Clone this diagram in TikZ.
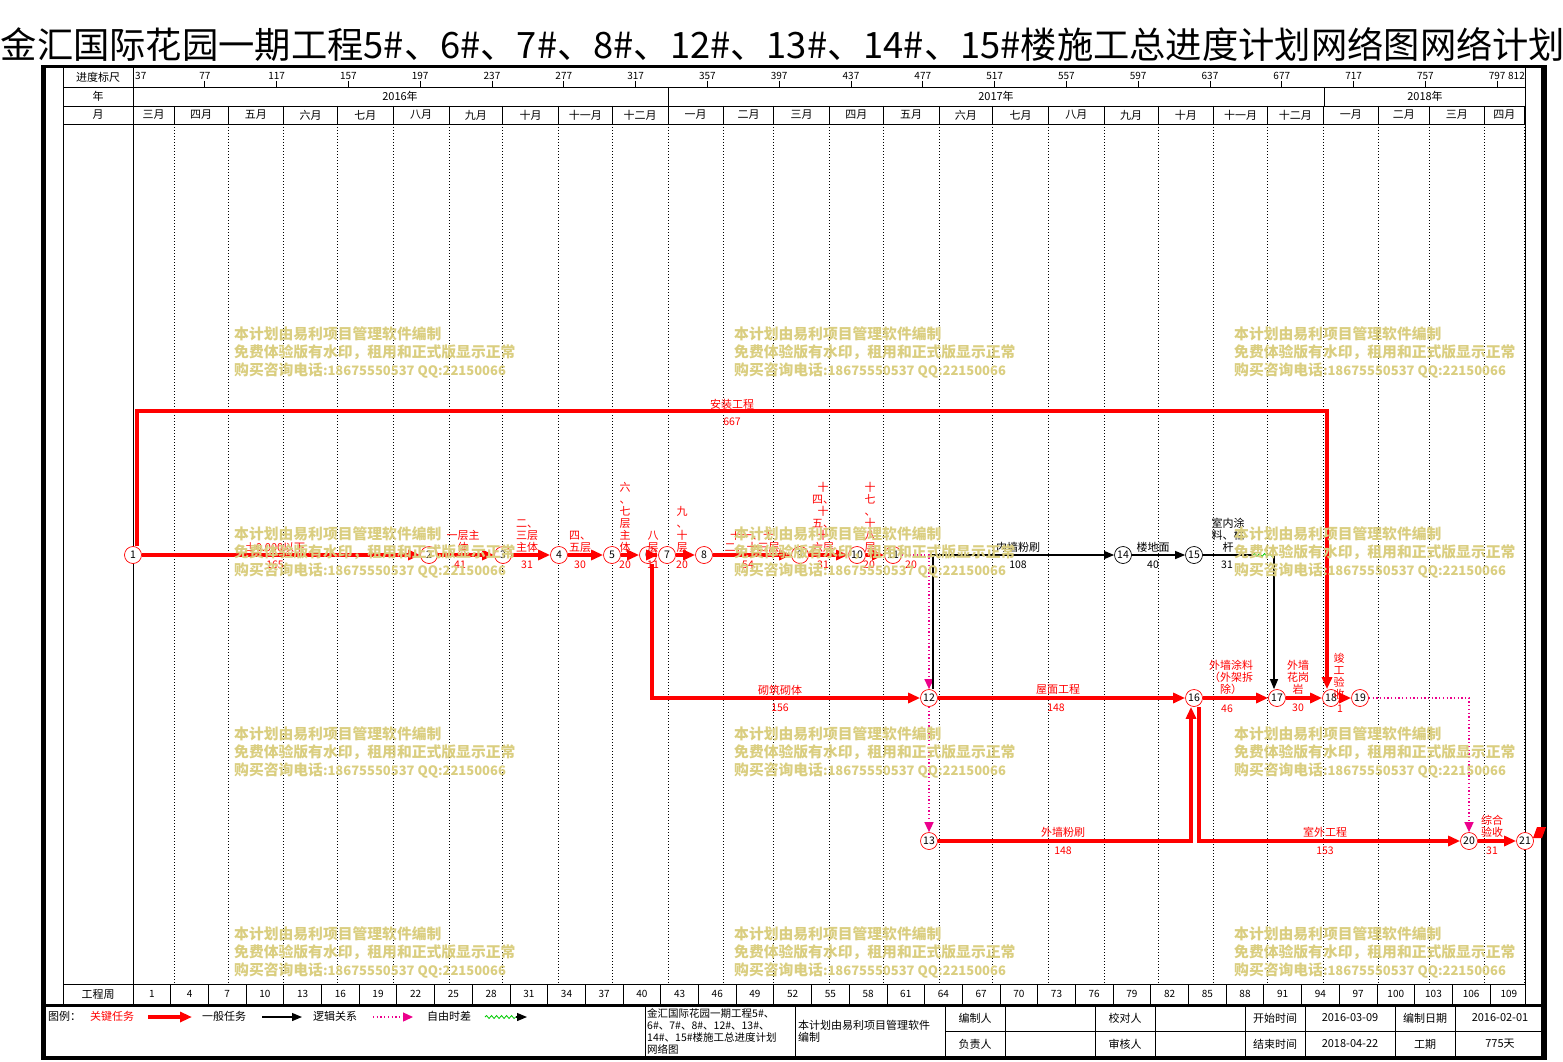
\documentclass[tikz,border=0pt]{standalone}
\usepackage{fontspec}
\setmainfont{Noto Sans CJK SC}
\usetikzlibrary{arrows.meta,decorations.pathmorphing}

\definecolor{wmark}{RGB}{218,206,128}
\definecolor{fgreen}{RGB}{0,200,0}

\begin{document}
\begin{tikzpicture}[x=1pt,y=-1pt,
  crit/.style={red,line width=3.5pt,-{Triangle[length=12pt,width=10pt]}},
  norm/.style={black,line width=1.2pt,-{Triangle[length=10pt,width=8pt]}},
  normline/.style={black,line width=1.2pt},
  logic/.style={magenta,line width=1.3pt,dash pattern=on 1.3pt off 2.4pt,-{Triangle[length=10pt,width=9pt]}},
  flt/.style={fgreen,line width=0.8pt,decorate,decoration={snake,amplitude=1.5pt,segment length=5pt}},
  mline/.style={black,line width=0.8pt,dash pattern=on 1pt off 2pt},
  nd/.style={circle,draw=red,line width=0.7pt,fill=white,minimum size=17pt,inner sep=0pt,font=\fontsize{10.5}{10}\selectfont},
  ndk/.style={nd,draw=black},
  lab/.style={red,inner sep=0pt,align=center,font=\fontsize{11}{12}\selectfont},
  labk/.style={lab,black},
  dur/.style={red,inner sep=0pt,font=\fontsize{10.5}{12}\selectfont},
  durk/.style={dur,black},
  hd/.style={inner sep=0pt,font=\fontsize{11}{12}\selectfont},
  num/.style={inner sep=0pt,font=\fontsize{10}{12}\selectfont},
  wm/.style={wmark,inner sep=0pt,align=left,anchor=west,font=\fontsize{14.8}{18}\selectfont\bfseries},
  cellt/.style={inner sep=0pt,align=left,anchor=north west,font=\fontsize{10.5}{12}\selectfont}]
\useasboundingbox (0,0) rectangle (1563,1062);

% title
\node[inner sep=0pt,font=\fontsize{36.3}{40}\selectfont] (title) at (783,45)
  {金汇国际花园一期工程5\#、6\#、7\#、8\#、12\#、13\#、14\#、15\#楼施工总进度计划网络图网络计划};

% frame
\fill (41,65) rectangle (1547,68);
\fill (41,65) rectangle (46,1060);
\fill (1541,65) rectangle (1547,1060);
\fill (41,1056) rectangle (1547,1060);
\fill (46,1004) rectangle (1541,1007);
\draw[line width=0.8pt] (63,68) -- (63,1005) (133,68) -- (133,1005) (1525,68) -- (1525,1005);
\draw[line width=0.8pt] (63,87) -- (1525,87) (63,106) -- (1525,106) (63,124) -- (1525,124) (63,984) -- (1525,984);
\draw[line width=0.8pt] (668,87) -- (668,106) (1324,87) -- (1324,106);

% header
\node[hd] (h1) at (98,77) {进度标尺};
\node[hd] (h2) at (98,96) {年};
\node[hd] (h3) at (98,115) {月};
\node[hd] (y16) at (400,96) {2016年};
\node[hd] (y17) at (996,96) {2017年};
\node[hd] (y18) at (1425,96) {2018年};
\node[num,anchor=west] (s0) at (135,76) {37};
\foreach \k in {1,...,19}{
  \pgfmathtruncatemacro\lb{37+40*\k}
  \draw[line width=0.8pt] ({133+71.8*\k},81) -- ({133+71.8*\k},87);
  \node[num] (s\k) at ({133+71.8*\k},76) {\lb};
}
\node[num,anchor=east] (s20) at (1525,76) {812};

% months
\foreach \a/\b/\m in {0/23/三月,23/53/四月,53/84/五月,84/114/六月,114/145/七月,145/176/八月,
    176/206/九月,206/237/十月,237/267/十一月,267/298/十二月,298/329/一月,329/357/二月,
    357/388/三月,388/418/四月,418/449/五月,449/479/六月,479/510/七月,510/541/八月,
    541/571/九月,571/602/十月,602/632/十一月,632/663/十二月,663/694/一月,694/722/二月,
    722/753/三月,753/775/四月}{
  \node[hd] (m\a) at ({133+0.8975*(\a+\b)},115) {\m};
  \draw[mline] ({133+1.795*\b},124) -- ({133+1.795*\b},984);
  \draw[line width=0.8pt] ({133+1.795*\b},106) -- ({133+1.795*\b},124);
}

% weeks
\node[hd] (wk) at (98,994) {工程周};
\foreach \i in {0,...,36}{
  \pgfmathtruncatemacro\wn{1+3*\i}
  \node[num] (w\i) at ({151.85+37.695*\i},994) {\wn};
  \draw[line width=0.8pt] ({133+37.695*\i},984) -- ({133+37.695*\i},1005);
}

% nodes
\node[nd] (n1) at (133,555) {1};
\node[nd] (n2) at (429,555) {2};
\node[nd] (n3) at (503,555) {3};
\node[nd] (n4) at (559,555) {4};
\node[nd] (n5) at (612,555) {5};
\node[nd] (n6) at (648,555) {6};
\node[nd] (n7) at (667,555) {7};
\node[nd] (n8) at (704,555) {8};
\node[nd] (n9) at (800,555) {9};
\node[nd] (n10) at (857,555) {10};
\node[nd] (n11) at (893,555) {11};
\node[ndk] (n14) at (1123,555) {14};
\node[ndk] (n15) at (1194,555) {15};
\node[nd] (n12) at (929,698) {12};
\node[nd] (n16) at (1194,698) {16};
\node[nd] (n17) at (1277,698) {17};
\node[nd] (n18) at (1331,698) {18};
\node[nd] (n19) at (1360,698) {19};
\node[nd] (n13) at (929,841) {13};
\node[nd] (n20) at (1469,841) {20};
\node[nd] (n21) at (1525,841) {21};
\coordinate (t1) at (137,411);
\coordinate (t18) at (1327,411);
\coordinate (f1) at (1253,555);
\coordinate (f2) at (1274,555);

% arrows
\draw[crit] (n1) -- (n2);
\draw[crit] (n2) -- (n3);
\draw[crit] (n3) -- (n4);
\draw[crit] (n4) -- (n5);
\draw[crit] (n5) -- (n6);
\draw[crit] (n6) -- (n7);
\draw[crit] (n7) -- (n8);
\draw[crit] (n8) -- (n9);
\draw[crit] (n9) -- (n10);
\draw[crit] (n10) -- (n11);
\draw[logic] (n11) -| (n12);
\draw[crit] (t1 |- n1.north) -- (t1) -- (t18) -- (t18 |- n18.north);
\draw[crit] ([xshift=4pt]n6.south) |- (n12);
\draw[norm] ([xshift=4pt]n12.north) |- (n14);
\draw[norm] (n14) -- (n15);
\draw[normline] (n15) -- (f1);
\draw[flt] (f1) -- (f2);
\draw[norm] (f2) -- (f2 |- n17.north);
\draw[logic] (n12) -- (n13);
\draw[crit] (n12) -- (n16);
\draw[crit] (n13) -| ([xshift=-3pt]n16.south);
\draw[crit] ([xshift=5pt]n16.south) |- (n20);
\draw[crit] (n16) -- (n17);
\draw[crit] (n17) -- (n18);
\draw[crit] (n18) -- (n19);
\draw[logic] (n19) -| (n20);
\draw[crit] (n20) -- (n21);
\fill[red] (1533,838) -- (1537,827) -- (1546,827) -- (1542,838) -- cycle;

% task labels
\node[lab] (a1) at (732,404) {安装工程};
\node[dur] (d1) at (732,422) {667};
\node[lab,anchor=south] (a12) at (275,553) {±0.000以下};
\node[dur] (d12) at (275,565) {165};
\node[lab,anchor=south] (a23) at (463,553) {一层主\\体};
\node[dur] (d23) at (460,565) {41};
\node[lab,anchor=south] (a34) at (527,553) {二、\\三层\\主体};
\node[dur] (d34) at (527,565) {31};
\node[lab,anchor=south] (a45) at (580,553) {四、\\五层};
\node[dur] (d45) at (580,565) {30};
\node[lab,anchor=south] (a56) at (625,553) {六\\、\\七\\层\\主\\体};
\node[dur] (d56) at (625,565) {20};
\node[lab,anchor=south] (a67) at (653,553) {八\\层};
\node[dur] (d67) at (653,565) {11};
\node[lab,anchor=south] (a78) at (682,553) {九\\、\\十\\层};
\node[dur] (d78) at (682,565) {20};
\node[lab,anchor=south] (a89) at (752,553) {十一、十\\二、十三层};
\node[dur] (d89) at (748,565) {54};
\node[lab,anchor=south] (a910) at (823,553) {十\\四、\\十\\五、\\十\\六层};
\node[dur] (d910) at (823,565) {31};
\node[lab,anchor=south] (a1011) at (870,553) {十\\七\\、\\十\\八\\层};
\node[dur] (d1011) at (869,565) {20};
\node[dur] (d1112) at (911,565) {20};
\node[lab] (a612) at (780,690) {砌筑砌体};
\node[dur] (d612) at (780,708) {156};
\node[lab] (a1216) at (1058,689) {屋面工程};
\node[dur] (d1216) at (1056,708) {148};
\node[lab,anchor=south] (a1617) at (1231,695) {外墙涂料\\（外架拆\\除）};
\node[dur] (d1617) at (1227,709) {46};
\node[lab,anchor=south] (a1718) at (1298,695) {外墙\\花岗\\岩};
\node[dur] (d1718) at (1298,708) {30};
\node[lab,anchor=south] (a1819) at (1339,700) {竣\\工\\验\\收};
\node[dur] (d1819) at (1340,709) {1};
\node[lab] (a1316) at (1063,832) {外墙粉刷};
\node[dur] (d1316) at (1063,851) {148};
\node[lab] (a1620) at (1325,832) {室外工程};
\node[dur] (d1620) at (1325,851) {153};
\node[lab,anchor=south] (a2021) at (1492,838) {综合\\验收};
\node[dur] (d2021) at (1492,851) {31};
\node[labk] (a1214) at (1018,547) {内墙粉刷};
\node[durk] (d1214) at (1018,565) {108};
\node[labk] (a1415) at (1153,547) {楼地面};
\node[durk] (d1415) at (1153,565) {40};
\node[labk,anchor=south] (a1517) at (1228,553) {室内涂\\料、栏\\杆};
\node[durk] (d1517) at (1227,565) {31};

% legend
\node[hd,anchor=west] (lg) at (48,1016) {图例：};
\node[hd,anchor=west,red] (lg1) at (90,1016) {关键任务};
\coordinate (la1) at (148,1017);
\coordinate (lb1) at (192,1017);
\draw[crit] (la1) -- (lb1);
\node[hd,anchor=west] (lg2) at (202,1016) {一般任务};
\coordinate (la2) at (262,1017);
\coordinate (lb2) at (302,1017);
\draw[norm] (la2) -- (lb2);
\node[hd,anchor=west] (lg3) at (313,1016) {逻辑关系};
\coordinate (la3) at (373,1017);
\coordinate (lb3) at (413,1017);
\draw[logic] (la3) -- (lb3);
\node[hd,anchor=west] (lg4) at (427,1016) {自由时差};
\coordinate (la4) at (485,1017);
\coordinate (lm4) at (516,1017);
\coordinate (lb4) at (527,1017);
\draw[flt] (la4) -- (lm4);
\draw[norm] (lm4) -- (lb4);

% info table
\draw[line width=0.8pt] (645,1006) -- (645,1056) (795,1006) -- (795,1056) (945,1006) -- (945,1056)
  (1005,1006) -- (1005,1056) (1095,1006) -- (1095,1056) (1155,1006) -- (1155,1056)
  (1245,1006) -- (1245,1056) (1305,1006) -- (1305,1056) (1395,1006) -- (1395,1056)
  (1455,1006) -- (1455,1056) (945,1031) -- (1541,1031);
\node[cellt] (c1) at (647,1008) {金汇国际花园一期工程5\#、\\6\#、7\#、8\#、12\#、13\#、\\14\#、15\#楼施工总进度计划\\网络图};
\node[cellt,font=\fontsize{11}{12}\selectfont] (c2) at (798,1020) {本计划由易利项目管理软件\\编制};
\node[hd] (c3) at (975,1018) {编制人};
\node[hd] (c4) at (975,1044) {负责人};
\node[hd] (c5) at (1125,1018) {校对人};
\node[hd] (c6) at (1125,1044) {审核人};
\node[hd] (c7) at (1275,1018) {开始时间};
\node[hd] (c8) at (1275,1044) {结束时间};
\node[hd] (c9) at (1350,1018) {2016-03-09};
\node[hd] (c10) at (1350,1044) {2018-04-22};
\node[hd] (c11) at (1425,1018) {编制日期};
\node[hd] (c12) at (1425,1044) {工期};
\node[hd] (c13) at (1500,1018) {2016-02-01};
\node[hd] (c14) at (1500,1044) {775天};

% watermarks
\foreach \wx in {234,734,1234}
  \foreach \wy in {334,534,734,934}
    \node[wm] (wm\wx\wy) at (\wx,\wy+18) {本计划由易利项目管理软件编制\\免费体验版有水印，租用和正式版显示正常\\购买咨询电话{\fontsize{13}{18}\selectfont :18675550537 QQ:22150066}};
\end{tikzpicture}
\end{document}
